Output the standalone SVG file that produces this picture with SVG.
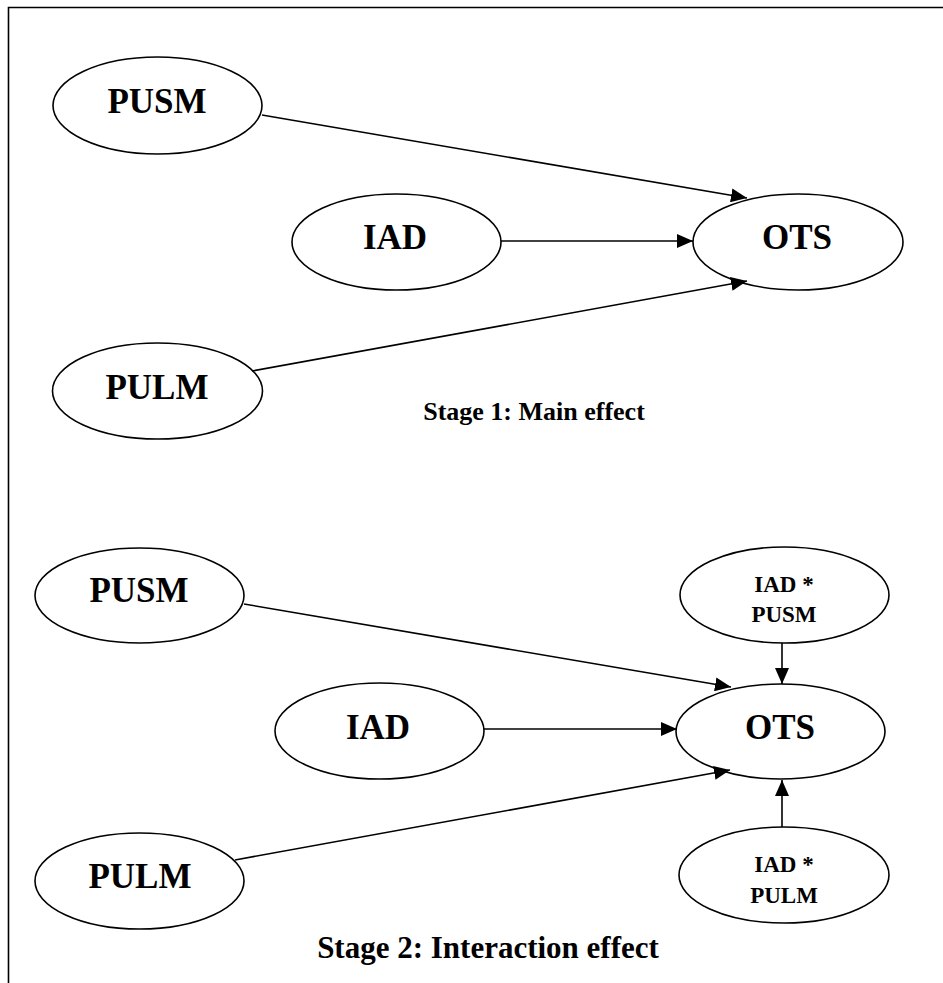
<svg xmlns="http://www.w3.org/2000/svg" width="943" height="983" viewBox="0 0 943 983">
  <style>
    .node ellipse { fill: #ffffff; stroke: #000000; stroke-width: 1.6; }
    .lbl { font-family: "Liberation Serif", "Times New Roman", serif; font-weight: bold; fill: #000000; text-anchor: middle; }
    .big { font-size: 35px; }
    .small { font-size: 23px; }
    .edge { stroke: #000000; stroke-width: 1.6; fill: none; marker-end: url(#arrow); }
    .frame { stroke: #000000; stroke-width: 1.6; fill: none; }
  </style>
  <defs>
    <marker id="arrow" viewBox="0 0 16 14" refX="16" refY="7" markerWidth="16" markerHeight="14" markerUnits="userSpaceOnUse" orient="auto">
      <path d="M0,0 L16,7 L0,14 Z" fill="#000000"/>
    </marker>
  </defs>

  <rect width="943" height="983" fill="#ffffff"/>
  <!-- page frame: top and left rules -->
  <path class="frame" d="M943,7.5 H8.5 V983"/>

  <!-- Stage 1 -->
  <g id="s1-pusm" class="node">
    <ellipse cx="157.5" cy="105.5" rx="104.5" ry="48.5"/>
    <text class="lbl big" x="157" y="113">PUSM</text>
  </g>
  <g id="s1-iad" class="node">
    <ellipse cx="396.5" cy="242" rx="104.5" ry="48"/>
    <text class="lbl big" x="395" y="249">IAD</text>
  </g>
  <g id="s1-ots" class="node">
    <ellipse cx="798" cy="242" rx="105" ry="48"/>
    <text class="lbl big" x="797" y="249">OTS</text>
  </g>
  <g id="s1-pulm" class="node">
    <ellipse cx="157.5" cy="391" rx="105" ry="48"/>
    <text class="lbl big" x="157" y="399">PULM</text>
  </g>
  <text id="s1-caption" class="lbl" style="font-size:26px" x="534" y="420">Stage 1: Main effect</text>

  <!-- Stage 2 -->
  <g id="s2-pusm" class="node">
    <ellipse cx="139.5" cy="595.5" rx="104.5" ry="47.5"/>
    <text class="lbl big" x="139" y="602">PUSM</text>
  </g>
  <g id="s2-iad" class="node">
    <ellipse cx="379.5" cy="731" rx="104.5" ry="48"/>
    <text class="lbl big" x="378" y="739">IAD</text>
  </g>
  <g id="s2-ots" class="node">
    <ellipse cx="780.5" cy="731.5" rx="104.5" ry="47.5"/>
    <text class="lbl big" x="780" y="739">OTS</text>
  </g>
  <g id="s2-pulm" class="node">
    <ellipse cx="139.5" cy="881" rx="104.5" ry="48"/>
    <text class="lbl big" x="140" y="888">PULM</text>
  </g>
  <g id="s2-iad-pusm" class="node">
    <ellipse cx="784.5" cy="595" rx="104.5" ry="48"/>
    <text class="lbl small" x="784" y="592">IAD *</text>
    <text class="lbl small" x="784" y="622">PUSM</text>
  </g>
  <g id="s2-iad-pulm" class="node">
    <ellipse cx="784" cy="875" rx="105" ry="48"/>
    <text class="lbl small" x="784" y="872">IAD *</text>
    <text class="lbl small" x="784" y="903">PULM</text>
  </g>
  <text id="s2-caption" class="lbl" style="font-size:31px" x="488" y="958">Stage 2: Interaction effect</text>

  <g id="connectors">
    <!-- stage 1 -->
    <line class="edge" x1="262" y1="115" x2="747" y2="198"/>
    <line class="edge" x1="501" y1="241" x2="693" y2="241"/>
    <line class="edge" x1="252" y1="371" x2="747" y2="281"/>
    <!-- stage 2 -->
    <line class="edge" x1="244" y1="604" x2="731" y2="687"/>
    <line class="edge" x1="484" y1="729" x2="677" y2="729"/>
    <line class="edge" x1="235" y1="860" x2="730" y2="770"/>
    <line class="edge" x1="782" y1="643" x2="782" y2="684"/>
    <line class="edge" x1="782" y1="827" x2="782" y2="780"/>
  </g>
</svg>
